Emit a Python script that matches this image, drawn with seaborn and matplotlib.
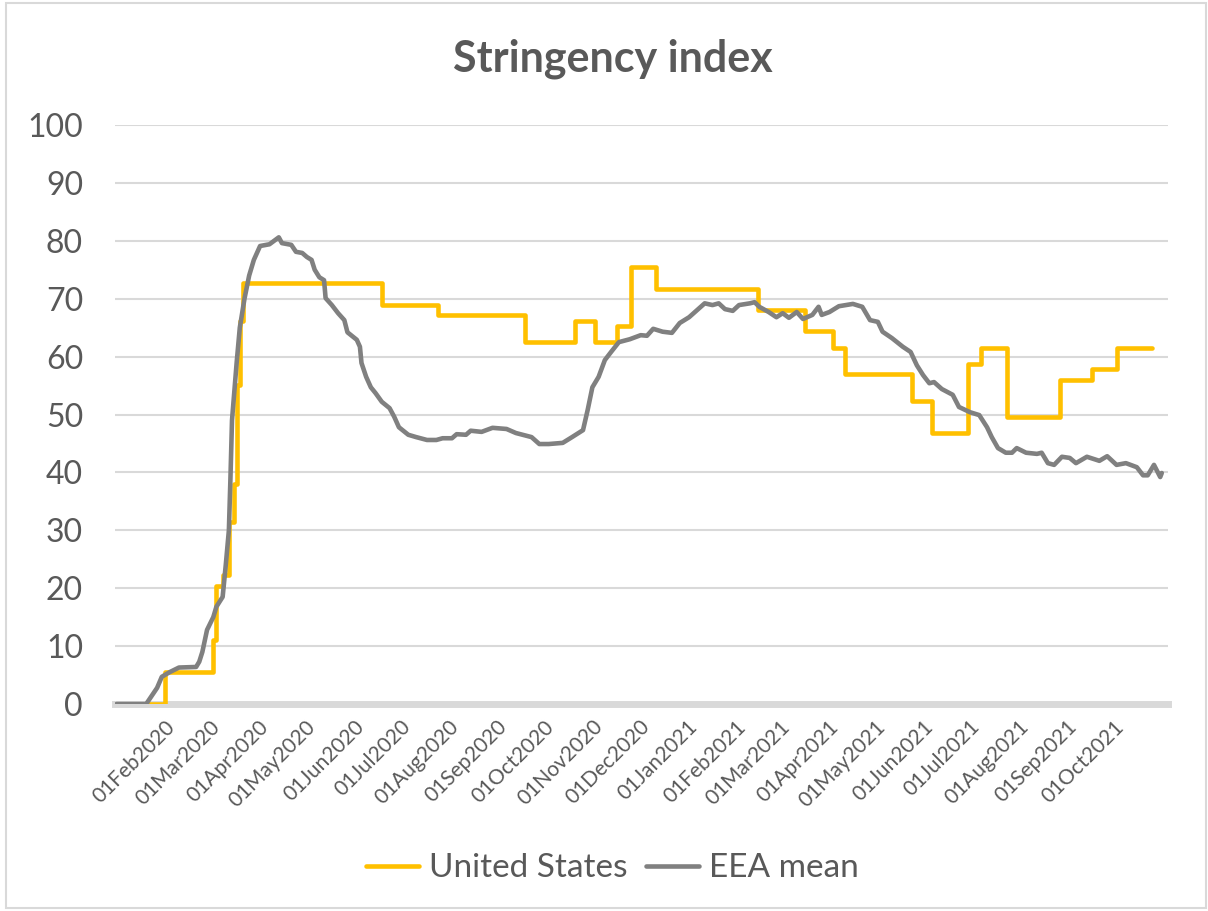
import pandas as pd
import seaborn as sns
import matplotlib.pyplot as plt
import matplotlib.dates as mdates
from matplotlib.patches import Rectangle

# United States: step changes (date, index value)
us_dates = [
    "2020-01-01", "2020-02-01", "2020-03-03", "2020-03-05", "2020-03-09",
    "2020-03-13", "2020-03-16", "2020-03-18", "2020-03-20", "2020-03-22",
    "2020-06-19", "2020-07-25", "2020-09-19", "2020-10-21", "2020-11-03",
    "2020-11-17", "2020-11-26", "2020-12-12", "2021-02-15", "2021-03-17",
    "2021-04-04", "2021-04-12", "2021-05-25", "2021-06-07", "2021-06-30",
    "2021-07-08", "2021-07-25", "2021-08-28", "2021-09-17", "2021-10-03",
    "2021-10-26",
]
us_values = [
    0, 5.56, 11.11, 20.37, 22.22,
    31.48, 38.0, 55.09, 66.2, 72.69,
    68.98, 67.13, 62.5, 66.2, 62.5,
    65.28, 75.46, 71.76, 68.06, 64.35,
    61.57, 56.94, 52.31, 46.76, 58.8,
    61.57, 49.54, 56.02, 57.87, 61.57,
    61.57,
]

# EEA mean
eea_dates = [
    "2020-01-01", "2020-01-20", "2020-01-27", "2020-01-30", "2020-02-04",
    "2020-02-10", "2020-02-21", "2020-02-23", "2020-02-25", "2020-02-28",
    "2020-03-03", "2020-03-05", "2020-03-09", "2020-03-11", "2020-03-13",
    "2020-03-14", "2020-03-15", "2020-03-18", "2020-03-20", "2020-03-23",
    "2020-03-26", "2020-03-29", "2020-04-02", "2020-04-08", "2020-04-14",
    "2020-04-16", "2020-04-22", "2020-04-25", "2020-04-29", "2020-05-02",
    "2020-05-05", "2020-05-07", "2020-05-10", "2020-05-13", "2020-05-14",
    "2020-05-18", "2020-05-22", "2020-05-26", "2020-05-28", "2020-06-03",
    "2020-06-05", "2020-06-06", "2020-06-09", "2020-06-12", "2020-06-15",
    "2020-06-19", "2020-06-24", "2020-06-27", "2020-06-30", "2020-07-06",
    "2020-07-11", "2020-07-18", "2020-07-24", "2020-07-28", "2020-08-03",
    "2020-08-06", "2020-08-12", "2020-08-15", "2020-08-22", "2020-08-29",
    "2020-09-07", "2020-09-13", "2020-09-23", "2020-09-28", "2020-10-04",
    "2020-10-13", "2020-10-19", "2020-10-26", "2020-10-29", "2020-11-01",
    "2020-11-05", "2020-11-09", "2020-11-13", "2020-11-18", "2020-11-25",
    "2020-12-02", "2020-12-06", "2020-12-10", "2020-12-16", "2020-12-22",
    "2020-12-27", "2021-01-02", "2021-01-07", "2021-01-12", "2021-01-17",
    "2021-01-21", "2021-01-25", "2021-01-30", "2021-02-03", "2021-02-10",
    "2021-02-13", "2021-02-16", "2021-02-22", "2021-02-27", "2021-03-03",
    "2021-03-07", "2021-03-12", "2021-03-16", "2021-03-22", "2021-03-26",
    "2021-03-28", "2021-04-02", "2021-04-08", "2021-04-17", "2021-04-23",
    "2021-04-28", "2021-05-03", "2021-05-06", "2021-05-12", "2021-05-19",
    "2021-05-24", "2021-05-28", "2021-06-01", "2021-06-05", "2021-06-08",
    "2021-06-13", "2021-06-18", "2021-06-20", "2021-06-24", "2021-07-01",
    "2021-07-07", "2021-07-12", "2021-07-15", "2021-07-19", "2021-07-24",
    "2021-07-28", "2021-07-31", "2021-08-06", "2021-08-13", "2021-08-16",
    "2021-08-20", "2021-08-24", "2021-08-29", "2021-09-03", "2021-09-07",
    "2021-09-14", "2021-09-22", "2021-09-27", "2021-10-03", "2021-10-09",
    "2021-10-16", "2021-10-20", "2021-10-23", "2021-10-27", "2021-10-31",
    "2021-11-01",
]
eea_values = [
    0, 0, 2.8, 4.7, 5.5,
    6.3, 6.4, 7.3, 9.0, 12.8,
    15.0, 16.8, 18.5, 24.0, 30.0,
    39.0, 49.0, 59.0, 65.0, 70.0,
    74.0, 76.7, 79.1, 79.4, 80.6,
    79.6, 79.3, 78.1, 77.9, 77.2,
    76.7, 75.0, 73.7, 73.2, 70.1,
    68.9, 67.5, 66.3, 64.2, 62.9,
    61.7, 58.9, 56.5, 54.7, 53.7,
    52.2, 51.1, 49.6, 47.8, 46.5,
    46.1, 45.6, 45.6, 45.9, 45.9,
    46.6, 46.5, 47.2, 47.0, 47.7,
    47.5, 46.8, 46.1, 44.9, 44.9,
    45.1, 46.1, 47.3, 50.8, 54.7,
    56.5, 59.4, 60.8, 62.5, 63.0,
    63.7, 63.6, 64.8, 64.3, 64.1,
    65.8, 66.8, 68.0, 69.2, 68.9,
    69.2, 68.2, 67.9, 68.9, 69.2,
    69.4, 68.6, 67.7, 66.8, 67.5,
    66.7, 67.7, 66.5, 67.2, 68.6,
    67.2, 67.7, 68.7, 69.1, 68.6,
    66.3, 66.0, 64.3, 63.2, 61.7,
    60.8, 58.5, 56.8, 55.4, 55.6,
    54.4, 53.7, 53.4, 51.3, 50.4,
    49.9, 47.8, 46.1, 44.2, 43.4,
    43.4, 44.2, 43.4, 43.2, 43.4,
    41.6, 41.3, 42.7, 42.5, 41.6,
    42.7, 42.0, 42.8, 41.3, 41.6,
    40.9, 39.5, 39.5, 41.3, 39.2,
    39.9,
]

# month ticks shown on the axis
tick_dates = pd.date_range("2020-02-01", "2021-10-01", freq="MS")

TEXT = "#595959"
GRID = "#d9d9d9"

sns.set_style("white")
plt.rcParams["font.family"] = ["Lato", "DejaVu Sans"]

us = pd.DataFrame({"date": pd.to_datetime(us_dates), "value": us_values})
eea = pd.DataFrame({"date": pd.to_datetime(eea_dates), "value": eea_values})

fig = plt.figure(figsize=(12.08, 9.11), dpi=100)
ax = fig.add_axes([0.0952, 0.2272, 0.8717, 0.6356])

sns.lineplot(data=us, x="date", y="value", ax=ax, color="#FFC000",
             linewidth=3.3, drawstyle="steps-post", label="United States",
             zorder=4, solid_joinstyle="round")
sns.lineplot(data=eea, x="date", y="value", ax=ax, color="#808080",
             linewidth=3.3, label="EEA mean", zorder=5,
             solid_joinstyle="round")

ax.set_ylim(0, 100)
ax.set_xlim(pd.Timestamp("2019-12-31"), pd.Timestamp("2021-11-05"))
ax.set_yticks(range(0, 101, 10))
ax.yaxis.grid(True, color=GRID, linewidth=1.5)
ax.set_axisbelow(True)
for side in ["top", "left", "right"]:
    ax.spines[side].set_visible(False)
ax.spines["bottom"].set_color(GRID)
ax.spines["bottom"].set_linewidth(5)
ax.spines["bottom"].set_zorder(1)
ax.set_xlabel("")
ax.set_ylabel("")

ax.set_xticks(tick_dates)
ax.xaxis.set_major_formatter(mdates.DateFormatter("%d%b%Y"))
ax.tick_params(axis="x", length=0, pad=9, labelsize=15, colors=TEXT)
ax.tick_params(axis="y", length=0, pad=23, labelsize=23, colors=TEXT)
for lbl in ax.get_xticklabels():
    lbl.set_rotation(45)
    lbl.set_ha("right")
    lbl.set_va("top")
    lbl.set_rotation_mode("anchor")

fig.text(0.507, 0.936, "Stringency index", ha="center", va="center",
         fontsize=31, fontweight="bold", color=TEXT)

ax.get_legend().remove()
handles, labels = ax.get_legend_handles_labels()
leg = fig.legend(handles, labels, loc="center", bbox_to_anchor=(0.507, 0.047),
                 ncol=2, frameon=False, fontsize=24, handlelength=1.6,
                 handletextpad=0.3, columnspacing=0.55)
for t in leg.get_texts():
    t.set_color(TEXT)

fig.patches.append(Rectangle((0.005, 0.003), 0.993, 0.994,
                             transform=fig.transFigure, fill=False,
                             edgecolor=GRID, linewidth=1.5))

fig.savefig("out.png", dpi=100)
